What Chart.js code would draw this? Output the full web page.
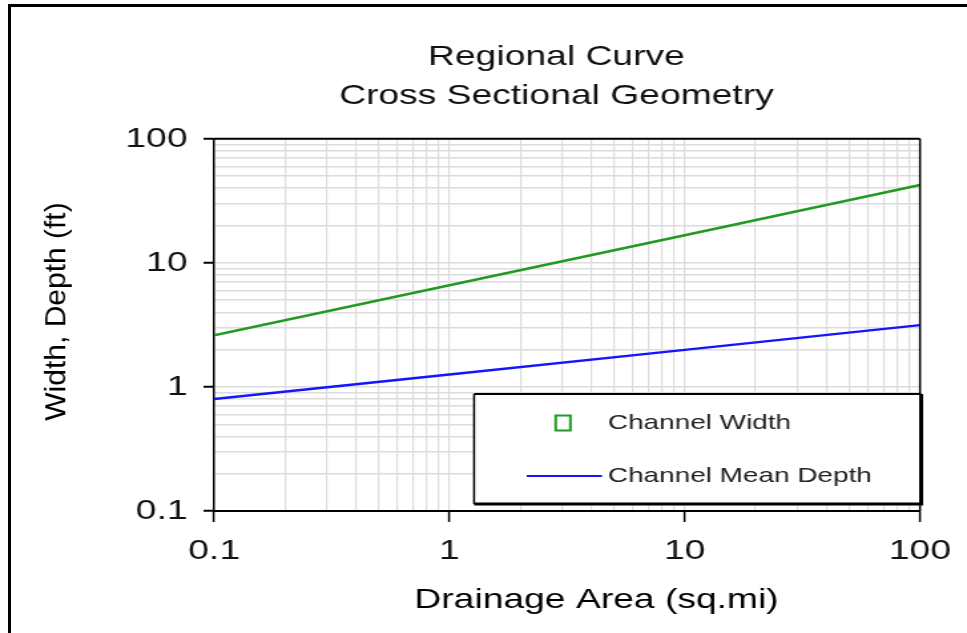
<!DOCTYPE html>
<html>
<head>
<meta charset="utf-8">
<title>Regional Curve</title>
<script src="https://cdn.jsdelivr.net/npm/chart.js@4"></script>
<style>
  body { margin: 0; background: #fff; overflow: hidden; }
  #frame { position: absolute; left: 8px; top: 4px; width: 1000px; height: 700px;
           border-left: 3px solid #000; border-top: 3px solid #000; }
  /* the reference picture is stretched sideways, so draw narrow and stretch */
  #wrap { position: absolute; left: 0; top: 0; width: 727px; height: 633px;
          transform: scaleX(1.3301); transform-origin: 0 0; }
</style>
</head>
<body>
<div id="frame"></div>
<div id="wrap"><canvas id="chart" width="727" height="633"></canvas></div>
<script>
// ===== DATA =====
const drainageArea = [0.1, 1, 10, 100];          // sq.mi
const channelWidth = [2.61, 6.6, 16.7, 42.4];    // ft
const meanDepth = [0.80, 1.26, 1.99, 3.15];      // ft

const tickValues = [0.1, 1, 10, 100];
const tickLabels = ['0.1', '1', '10', '100'];
const titleLines = ['Regional Curve', 'Cross Sectional Geometry'];
const xTitle = 'Drainage Area (sq.mi)';
const yTitle = 'Width, Depth (ft)';
const seriesNames = ['Channel Width', 'Channel Mean Depth'];

const GREEN = '#229a22';
const BLUE = '#1414ff';
const FONT = "'Liberation Sans', Arial, sans-serif";

// gridlines at 1..9 of every decade
const gridTicks = [];
tickValues.forEach((d, i) => {
    if (i === tickValues.length - 1) { gridTicks.push(d); return; }
    for (let m = 1; m <= 9; m++) gridTicks.push(+(d * m).toPrecision(3));
});

function labelFor(v) {
    const i = tickValues.findIndex(t => Math.abs(t - v) < 1e-9);
    return i >= 0 ? tickLabels[i] : '';
}
function isDecade(v) {
    return labelFor(v) !== '';
}

const toPoints = ys => drainageArea.map((x, i) => ({ x: x, y: ys[i] }));

// titles, frame of the plot and the boxed legend
const extras = {
    id: 'extras',
    afterLayout(chart) {
        // reference title sits a bit left of plot centre
        const tb = chart.titleBlock, ca = chart.chartArea;
        const w = tb.right - tb.left;
        const c = (ca.left + ca.right) / 2 - 8;
        tb.left = c - w / 2;
        tb.right = c + w / 2;
    },
    afterDraw(chart) {
        const ctx = chart.ctx, ca = chart.chartArea;
        ctx.save();
        ctx.strokeStyle = '#000';
        ctx.lineWidth = 2;
        ctx.beginPath(); ctx.moveTo(ca.left, ca.top); ctx.lineTo(ca.right, ca.top); ctx.stroke();
        ctx.lineWidth = 1.5;
        ctx.beginPath(); ctx.moveTo(ca.right, ca.top); ctx.lineTo(ca.right, ca.bottom); ctx.stroke();

        // axis titles
        ctx.fillStyle = '#000';
        ctx.textAlign = 'center';
        ctx.textBaseline = 'middle';
        ctx.font = '28px ' + FONT;
        ctx.fillText(xTitle, 448.5, 600);

        ctx.save();
        ctx.translate(43, 311.5);
        ctx.rotate(-Math.PI / 2);
        ctx.scale(1, 0.76);
        ctx.font = '30px ' + FONT;
        ctx.fillText(yTitle, 0, 0);
        ctx.restore();

        // legend box
        const lx1 = 356.4, lx2 = 692.5, ly1 = 394, ly2 = 504;
        ctx.fillStyle = '#fff';
        ctx.fillRect(lx1, ly1, lx2 - lx1, ly2 - ly1);
        ctx.strokeStyle = '#000';
        ctx.lineWidth = 2;
        ctx.beginPath(); ctx.moveTo(lx1, ly1); ctx.lineTo(lx2, ly1); ctx.stroke();
        ctx.lineWidth = 1.5;
        ctx.beginPath(); ctx.moveTo(lx1, ly1); ctx.lineTo(lx1, ly2); ctx.stroke();
        ctx.lineWidth = 3;
        ctx.beginPath(); ctx.moveTo(lx1, ly2); ctx.lineTo(lx2 + 1.5, ly2); ctx.stroke();
        ctx.beginPath(); ctx.moveTo(lx2, ly1); ctx.lineTo(lx2, ly2); ctx.stroke();

        ctx.strokeStyle = chart.data.datasets[0].borderColor;
        ctx.lineWidth = 2;
        ctx.strokeRect(423.3 - 5.5, 423 - 7.5, 11, 15);

        ctx.strokeStyle = chart.data.datasets[1].borderColor;
        ctx.beginPath(); ctx.moveTo(396, 476); ctx.lineTo(452.6, 476); ctx.stroke();

        ctx.fillStyle = '#222';
        ctx.textAlign = 'left';
        ctx.font = '21px ' + FONT;
        ctx.fillText(chart.data.datasets[0].label, 457, 423);
        ctx.fillText(chart.data.datasets[1].label, 457, 476);
        ctx.restore();
    }
};

function logAxis(opts) {
    return {
        type: 'logarithmic',
        min: tickValues[0],
        max: tickValues[tickValues.length - 1],
        afterBuildTicks: s => { s.ticks = gridTicks.map(v => ({ value: v, major: isDecade(v) })); },
        afterFit: opts.fit,
        border: { color: '#000', width: opts.borderWidth },
        grid: {
            color: '#dcdcdc',
            lineWidth: opts.gridWidth,
            tickLength: opts.tickLength,
            tickWidth: opts.tickWidth,
            tickColor: c => (c.tick && isDecade(c.tick.value)) ? '#000' : 'rgba(0,0,0,0)'
        },
        ticks: {
            autoSkip: false,
            maxRotation: 0,
            padding: opts.padding,
            color: '#111',
            font: { size: 28, family: FONT },
            callback: v => labelFor(v)
        }
    };
}

Chart.defaults.font.family = FONT;

new Chart(document.getElementById('chart'), {
    type: 'scatter',
    data: {
        datasets: [
            {
                label: seriesNames[0],
                data: toPoints(channelWidth),
                showLine: true,
                borderColor: GREEN,
                borderWidth: 2.5,
                pointRadius: 0
            },
            {
                label: seriesNames[1],
                data: toPoints(meanDepth),
                showLine: true,
                borderColor: BLUE,
                borderWidth: 2.5,
                pointRadius: 0
            }
        ]
    },
    options: {
        responsive: false,
        animation: false,
        layout: { padding: { left: 0, right: 34.5, top: 0, bottom: 0 } },
        plugins: {
            legend: { display: false },
            tooltip: { enabled: false },
            title: {
                display: true,
                text: titleLines,
                color: '#111',
                font: { size: 28, weight: 'normal', lineHeight: 1.39 },
                padding: { top: 37.5, bottom: 23.5 }
            }
        },
        scales: {
            x: logAxis({ fit: s => { s.height = 122; }, borderWidth: 2, gridWidth: 1.2,
                         tickLength: 11, tickWidth: 1.5, padding: 12 }),
            y: logAxis({ fit: s => { s.width = 161; }, borderWidth: 1.5, gridWidth: 1.5,
                         tickLength: 8, tickWidth: 2, padding: 12 })
        }
    },
    plugins: [extras]
});
</script>
</body>
</html>
